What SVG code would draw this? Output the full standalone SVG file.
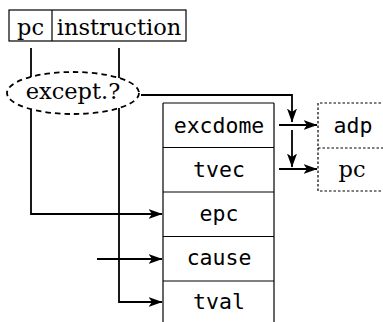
<svg xmlns="http://www.w3.org/2000/svg" width="383" height="322" viewBox="0 0 383 322">
<style>
.box{fill:none;stroke:#000;stroke-width:1.2}
.dbox{fill:none;stroke:#000;stroke-width:1.2;stroke-dasharray:2.5 2}
.serif{font-family:"DejaVu Serif","Liberation Serif",serif;font-size:22.5px;fill:#000;text-anchor:middle}
.mono{font-family:"DejaVu Sans Mono","Liberation Mono",monospace;font-size:21.5px;fill:#000;text-anchor:middle}
.conn{fill:none;stroke:#000;stroke-width:1.8}
</style>
<defs>
<marker id="arr" viewBox="0 0 14 10" refX="13.5" refY="5" markerWidth="14" markerHeight="10" markerUnits="userSpaceOnUse" orient="auto">
<path d="M0,0 L14,5 L0,10 L3.5,5 Z" fill="#000"/>
</marker>
</defs>
<g id="input">
<rect class="box" x="9" y="10" width="177" height="31"/>
<line class="box" x1="52" y1="10" x2="52" y2="41"/>
<text class="serif" x="30.5" y="35">pc</text>
<text class="serif" x="119" y="35">instruction</text>
</g>
<g id="except">
<ellipse cx="73" cy="93" rx="66" ry="21" fill="none" stroke="#000" stroke-width="1.8" stroke-dasharray="5.5 4"/>
<text class="serif" x="73" y="99">except.?</text>
</g>
<g id="csr">
<line class="box" x1="163" y1="103" x2="274" y2="103"/>
<line class="box" x1="163" y1="103" x2="163" y2="322"/>
<line class="box" x1="274" y1="103" x2="274" y2="322"/>
<line class="box" x1="163" y1="147.5" x2="274" y2="147.5"/>
<line class="box" x1="163" y1="192" x2="274" y2="192"/>
<line class="box" x1="163" y1="236.5" x2="274" y2="236.5"/>
<line class="box" x1="163" y1="281" x2="274" y2="281"/>
<text class="mono" x="219" y="133">excdome</text>
<text class="mono" x="219" y="177">tvec</text>
<text class="mono" x="219" y="221">epc</text>
<text class="mono" x="219" y="265">cause</text>
<text class="mono" x="219" y="309">tval</text>
</g>
<g id="out">
<path class="dbox" d="M390,103 H318 V191 H390"/>
<line class="dbox" x1="318" y1="148" x2="390" y2="148"/>
<text class="mono" x="353" y="133">adp</text>
<text class="serif" x="352" y="177">pc</text>
</g>
<g id="connectors">
<path class="conn" d="M31,48 V77"/>
<path class="conn" d="M119,48 V78"/>
<path class="conn" d="M31,109 V214 H162" marker-end="url(#arr)"/>
<path class="conn" d="M119,108 V302 H162" marker-end="url(#arr)"/>
<path class="conn" d="M97,259 H162" marker-end="url(#arr)"/>
<path class="conn" d="M141,95 H292 V122" marker-end="url(#arr)"/>
<path class="conn" d="M292,130 V167" marker-end="url(#arr)"/>
<path class="conn" d="M279,125 H317" marker-end="url(#arr)"/>
<path class="conn" d="M279,169 H317" marker-end="url(#arr)"/>
</g>
</svg>
